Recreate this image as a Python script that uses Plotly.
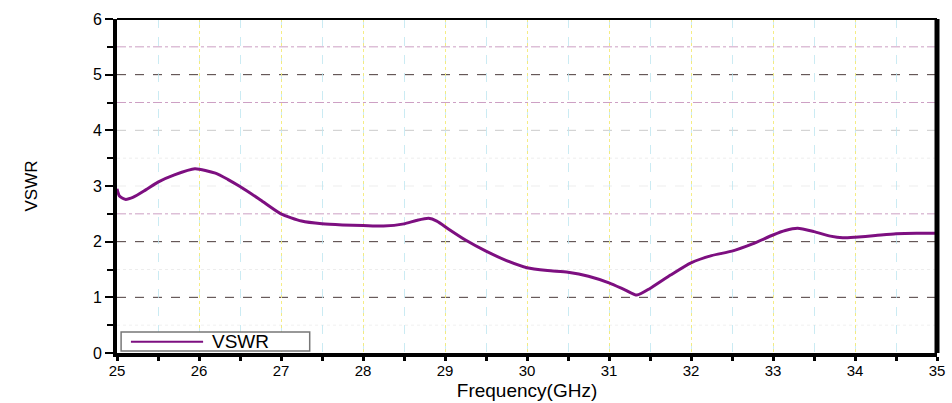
import plotly.graph_objects as go

# Measured VSWR versus frequency
freq_ghz = [25.0, 25.03, 25.1, 25.2, 25.35, 25.5, 25.7, 25.95, 26.2, 26.35, 26.5, 26.75, 27.0,
            27.25, 27.5, 27.75, 28.0, 28.25, 28.5, 28.65, 28.8, 28.9, 29.05, 29.25,
            29.5, 29.75, 30.0, 30.25, 30.5, 30.75, 31.0, 31.2, 31.34, 31.5, 31.75,
            32.0, 32.25, 32.5, 32.75, 33.0, 33.15, 33.3, 33.5, 33.7, 33.85, 34.0,
            34.25, 34.5, 34.75, 35.0]
vswr = [2.95, 2.82, 2.76, 2.80, 2.93, 3.07, 3.20, 3.31, 3.23, 3.12, 2.99, 2.75, 2.50,
        2.37, 2.32, 2.30, 2.29, 2.28, 2.32, 2.38, 2.42, 2.37, 2.22, 2.03,
        1.83, 1.66, 1.53, 1.48, 1.45, 1.38, 1.26, 1.13, 1.04, 1.16, 1.40,
        1.62, 1.75, 1.83, 1.96, 2.12, 2.20, 2.24, 2.18, 2.10, 2.07, 2.08,
        2.11, 2.14, 2.15, 2.15]

x_ticks = [25, 26, 27, 28, 29, 30, 31, 32, 33, 34, 35]
y_ticks = [0, 1, 2, 3, 4, 5, 6]
series_name = "VSWR"

# Horizontal reference lines: (level, colour, dash)
h_lines = [
    (5.5, "rgba(200,150,190,0.9)", "dashdot"),
    (5.0, "#4a3a3a", "dash"),
    (4.5, "rgba(200,150,190,0.9)", "dashdot"),
    (4.0, "rgba(190,190,190,0.8)", "dash"),
    (3.5, "rgba(230,230,230,0.7)", "dot"),
    (3.0, "rgba(225,225,225,0.6)", "dash"),
    (2.5, "rgba(200,150,190,0.9)", "dashdot"),
    (2.0, "#4a3a3a", "dash"),
    (1.5, "rgba(230,230,230,0.7)", "dot"),
    (1.0, "#4a3a3a", "dash"),
    (0.5, "rgba(235,235,235,0.7)", "dot"),
]

font_family = "Liberation Sans, Arial, sans-serif"
line_color = "#7d0f80"

fig = go.Figure()
fig.add_trace(go.Scatter(
    x=freq_ghz, y=vswr, mode="lines", name=series_name, showlegend=False,
    line=dict(color=line_color, width=3, shape="spline", smoothing=0.6),
))

shapes = []
for level, color, dash in h_lines:
    shapes.append(dict(type="line", xref="paper", yref="y", x0=0, x1=1,
                       y0=level, y1=level, layer="below",
                       line=dict(color=color, width=1, dash=dash)))
# top frame line (thin) and right frame line (thick)
shapes.append(dict(type="line", xref="paper", yref="paper", x0=0, x1=1, y0=1, y1=1,
                   line=dict(color="black", width=2)))
shapes.append(dict(type="line", xref="paper", yref="paper", x0=1, x1=1, y0=0, y1=1,
                   line=dict(color="black", width=5)))

# legend box drawn in the lower-left corner of the plot area
leg_x0, leg_x1 = 0.005, 0.235
leg_y0, leg_y1 = 0.006, 0.063
shapes.append(dict(type="rect", xref="paper", yref="paper",
                   x0=leg_x0, x1=leg_x1, y0=leg_y0, y1=leg_y1,
                   fillcolor="white", line=dict(color="#777777", width=1.5)))
shapes.append(dict(type="line", xref="paper", yref="paper",
                   x0=0.017, x1=0.105, y0=0.034, y1=0.034,
                   line=dict(color=line_color, width=2)))

fig.update_layout(
    width=952, height=403,
    margin=dict(l=117, r=15, t=19, b=50),
    paper_bgcolor="white", plot_bgcolor="white",
    font=dict(family=font_family, color="black"),
    shapes=shapes,
    showlegend=False,
    annotations=[dict(
        text=series_name, xref="paper", yref="paper", x=0.113, y=0.034,
        xanchor="left", yanchor="middle", showarrow=False,
        font=dict(size=19, family=font_family, color="black"),
    )],
    xaxis=dict(
        range=[25, 35], tickvals=x_ticks, ticktext=[str(v) for v in x_ticks],
        showline=True, linecolor="black", linewidth=4, mirror=False,
        ticks="outside", ticklen=4, tickwidth=3, tickcolor="black",
        tickfont=dict(size=15), ticklabelstandoff=-3,
        showgrid=True, gridcolor="rgba(245,235,120,0.9)", griddash="dot", gridwidth=1,
        minor=dict(dtick=0.5, showgrid=True, gridcolor="rgba(190,230,240,0.8)",
                   griddash="dash", ticks="outside", ticklen=4, tickwidth=3,
                   tickcolor="black"),
        zeroline=False, automargin=False,
        title=dict(text="Frequency(GHz)", font=dict(size=19), standoff=7),
    ),
    yaxis=dict(
        range=[0, 6], tickvals=y_ticks, ticktext=[str(v) for v in y_ticks],
        showline=True, linecolor="black", linewidth=4,
        ticks="outside", ticklen=8, tickwidth=2, tickcolor="black",
        tickfont=dict(size=16),
        showgrid=False, zeroline=False, automargin=False,
        minor=dict(dtick=0.5, ticks="outside", ticklen=6, tickwidth=2,
                   tickcolor="black", showgrid=False),
        title=dict(text="VSWR", font=dict(size=17), standoff=52),
    ),
)

fig.write_html("out.html")
